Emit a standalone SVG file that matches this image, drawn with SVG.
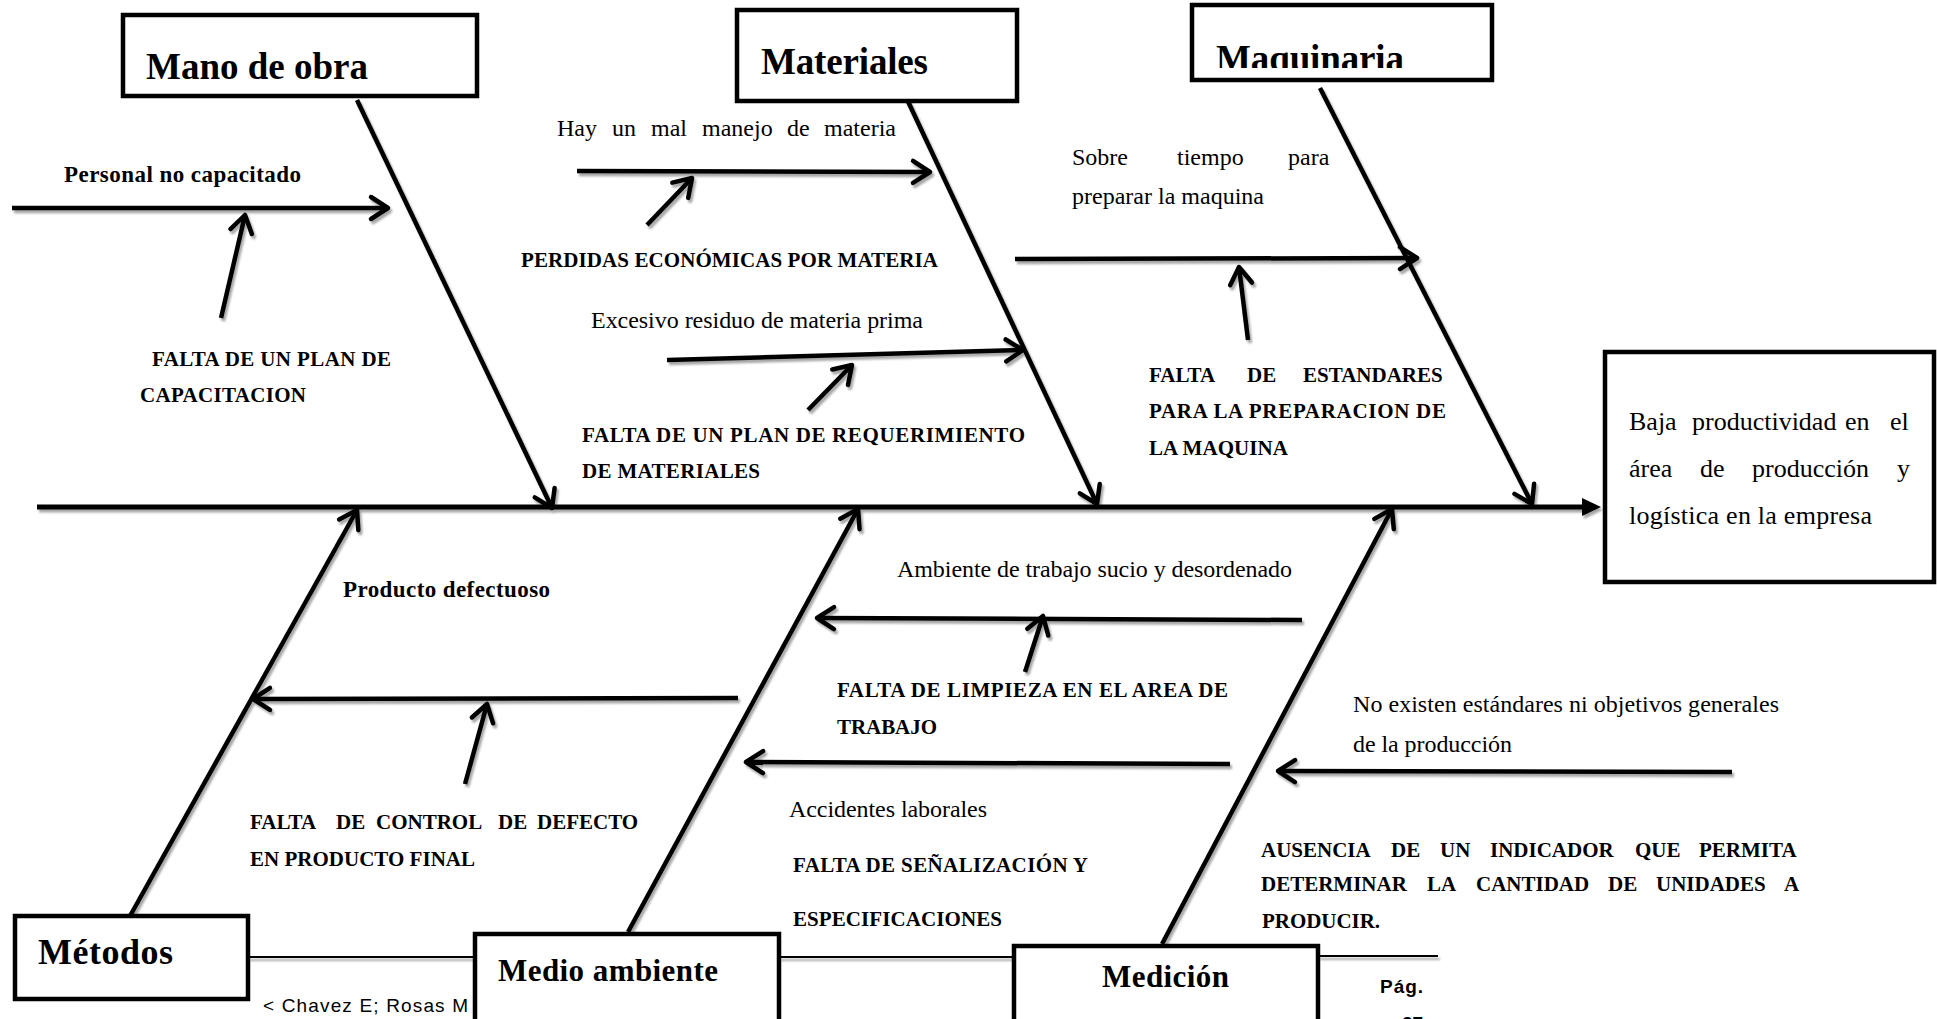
<svg xmlns="http://www.w3.org/2000/svg" width="1937" height="1019" viewBox="0 0 1937 1019">
<style>
text{font-family:"Liberation Serif","Times New Roman",serif;fill:#000}
.b21{font-weight:bold;font-size:21px}
.b23{font-weight:bold;font-size:23px}
.r24{font-size:24px}
.r26{font-size:26px}
.head{font-weight:bold;font-size:37px}
.head31{font-weight:bold;font-size:31px}
.sans{font-family:"Liberation Sans",Arial,sans-serif}
.bone{stroke:#000;stroke-width:4.5;fill:none;marker-end:url(#chev)}
.thin{stroke:#000;stroke-width:2;fill:none}
.box{fill:#fff;stroke:#000;stroke-width:4.5}
</style>
<defs>
<marker id="chev" markerUnits="userSpaceOnUse" viewBox="-24 -16 30 32" markerWidth="30" markerHeight="32" refX="0" refY="0" orient="auto" overflow="visible">
<path d="M-17,-11 L0,0 L-17,11" fill="none" stroke="#000" stroke-width="4.5" stroke-linecap="round" stroke-linejoin="round"/>
</marker>
<filter id="sh" x="-5%" y="-5%" width="110%" height="110%">
<feDropShadow dx="2" dy="3" stdDeviation="1.2" flood-color="#000" flood-opacity="0.35"/>
</filter>
<clipPath id="clipMaq"><rect x="1195" y="8" width="294" height="60"/></clipPath>
</defs>
<rect width="1937" height="1019" fill="#fff"/>

<g id="connectors" filter="url(#sh)">
<line x1="37" y1="507" x2="1586" y2="507" stroke="#000" stroke-width="5"/>
<polygon points="1582,498 1601,507 1582,516" fill="#000"/>
<line class="bone" x1="357" y1="100" x2="552" y2="508"/>
<line class="bone" x1="905" y1="95" x2="1097" y2="504"/>
<line class="bone" x1="1320" y1="88" x2="1532" y2="504"/>
<line class="bone" x1="130" y1="916" x2="357" y2="510"/>
<line class="bone" x1="628" y1="932" x2="858" y2="509"/>
<line class="bone" x1="1162" y1="944" x2="1392" y2="509"/>
<line class="bone" x1="12" y1="208" x2="388" y2="208"/>
<line class="bone" x1="221" y1="318" x2="245" y2="215"/>
<line class="bone" x1="577" y1="171" x2="930" y2="172"/>
<line class="bone" x1="647" y1="225" x2="692" y2="178"/>
<line class="bone" x1="667" y1="360" x2="1023" y2="350"/>
<line class="bone" x1="808" y1="410" x2="852" y2="365"/>
<line class="bone" x1="1015" y1="259" x2="1417" y2="258"/>
<line class="bone" x1="1248" y1="340" x2="1239" y2="267"/>
<line class="bone" x1="738" y1="698" x2="253" y2="699"/>
<line class="bone" x1="465" y1="784" x2="487" y2="704"/>
<line class="bone" x1="1302" y1="620" x2="817" y2="618"/>
<line class="bone" x1="1025" y1="672" x2="1043" y2="616"/>
<line class="bone" x1="1230" y1="764" x2="746" y2="762"/>
<line class="bone" x1="1732" y1="772" x2="1278" y2="771"/>
<line class="thin" x1="248" y1="957" x2="475" y2="957"/>
<line class="thin" x1="779" y1="957" x2="1014" y2="957"/>
<line class="thin" x1="1318" y1="956" x2="1438" y2="956"/>
</g>

<g id="node-mano">
<rect class="box" x="123" y="15" width="354" height="81"/>
<text class="head" x="146" y="79" textLength="222">Mano de obra</text>
</g>
<g id="node-materiales">
<rect class="box" x="737" y="10" width="280" height="91"/>
<text class="head" x="761" y="74" textLength="167">Materiales</text>
</g>
<g id="node-maquinaria">
<rect class="box" x="1192" y="5" width="300" height="75"/>
<text class="head" x="1216" y="71" textLength="188" clip-path="url(#clipMaq)">Maquinaria</text>
</g>
<g id="node-efecto">
<rect class="box" x="1605" y="352" width="329" height="230"/>
<text class="r26" y="430"><tspan x="1629">Baja</tspan><tspan x="1692">productividad</tspan><tspan x="1845">en</tspan><tspan x="1890">el</tspan></text>
<text class="r26" y="477"><tspan x="1629">área</tspan><tspan x="1700">de</tspan><tspan x="1752">producción</tspan><tspan x="1897">y</tspan></text>
<text class="r26" x="1629" y="524" textLength="243">logística en la empresa</text>
</g>
<g id="node-metodos">
<rect class="box" x="15" y="916" width="233" height="83"/>
<text class="head" style="font-size:36px" x="38" y="964" textLength="135">Métodos</text>
</g>
<g id="node-medio">
<text class="sans" style="font-size:19px" x="263" y="1012" textLength="205">&lt; Chavez E; Rosas M</text>
<rect class="box" x="475" y="934" width="304" height="100"/>
<text class="head31" x="498" y="981" textLength="220">Medio ambiente</text>
</g>
<g id="node-medicion">
<rect class="box" x="1014" y="946" width="304" height="90"/>
<text class="head31" x="1102" y="987" textLength="127">Medición</text>
<text class="sans" style="font-size:19px;font-weight:bold" x="1380" y="993" textLength="43">Pág.</text>
<text class="sans" style="font-size:19px;font-weight:bold" x="1402" y="1030">27</text>
</g>

<g id="causes-mano">
<text class="b23" x="64" y="182" textLength="237">Personal no capacitado</text>
<text class="b21" x="152" y="366" textLength="239">FALTA DE UN PLAN DE</text>
<text class="b21" x="140" y="402" textLength="166">CAPACITACION</text>
</g>
<g id="causes-materiales">
<text class="r24" y="136"><tspan x="557">Hay</tspan><tspan x="612">un</tspan><tspan x="651">mal</tspan><tspan x="702">manejo</tspan><tspan x="787">de</tspan><tspan x="824">materia</tspan></text>
<text class="b21" x="521" y="267" textLength="417">PERDIDAS ECONÓMICAS POR MATERIA</text>
<text class="r24" x="591" y="328" textLength="332">Excesivo residuo de materia prima</text>
<text class="b21" x="582" y="442" textLength="443">FALTA DE UN PLAN DE REQUERIMIENTO</text>
<text class="b21" x="582" y="478" textLength="178">DE MATERIALES</text>
</g>
<g id="causes-maquinaria">
<text class="r24" y="165"><tspan x="1072">Sobre</tspan><tspan x="1177">tiempo</tspan><tspan x="1288">para</tspan></text>
<text class="r24" x="1072" y="204" textLength="192">preparar la maquina</text>
<text class="b21" y="382"><tspan x="1149">FALTA</tspan><tspan x="1247">DE</tspan><tspan x="1303">ESTANDARES</tspan></text>
<text class="b21" x="1149" y="418" textLength="297">PARA LA PREPARACION DE</text>
<text class="b21" x="1149" y="455" textLength="139">LA MAQUINA</text>
</g>
<g id="causes-metodos">
<text class="b23" x="343" y="597" textLength="207">Producto defectuoso</text>
<text class="b21" y="829"><tspan x="250">FALTA</tspan><tspan x="336">DE</tspan><tspan x="376">CONTROL</tspan><tspan x="498">DE</tspan><tspan x="537">DEFECTO</tspan></text>
<text class="b21" x="250" y="866" textLength="225">EN PRODUCTO FINAL</text>
</g>
<g id="causes-medio">
<text class="r24" x="897" y="577" textLength="395">Ambiente de trabajo sucio y desordenado</text>
<text class="b21" x="837" y="697" textLength="391">FALTA DE LIMPIEZA EN EL AREA DE</text>
<text class="b21" x="837" y="734" textLength="100">TRABAJO</text>
<text class="r24" x="789" y="817" textLength="198">Accidentes laborales</text>
<text class="b21" x="793" y="872" textLength="295">FALTA DE SEÑALIZACIÓN Y</text>
<text class="b21" x="793" y="926" textLength="209">ESPECIFICACIONES</text>
</g>
<g id="causes-medicion">
<text class="r24" x="1353" y="712" textLength="426">No existen estándares ni objetivos generales</text>
<text class="r24" x="1353" y="752" textLength="159">de la producción</text>
<text class="b21" y="857"><tspan x="1261">AUSENCIA</tspan><tspan x="1391">DE</tspan><tspan x="1440">UN</tspan><tspan x="1490">INDICADOR</tspan><tspan x="1635">QUE</tspan><tspan x="1699">PERMITA</tspan></text>
<text class="b21" y="891"><tspan x="1261">DETERMINAR</tspan><tspan x="1427">LA</tspan><tspan x="1476">CANTIDAD</tspan><tspan x="1608">DE</tspan><tspan x="1656">UNIDADES</tspan><tspan x="1784">A</tspan></text>
<text class="b21" x="1262" y="928" textLength="118">PRODUCIR.</text>
</g>
</svg>
